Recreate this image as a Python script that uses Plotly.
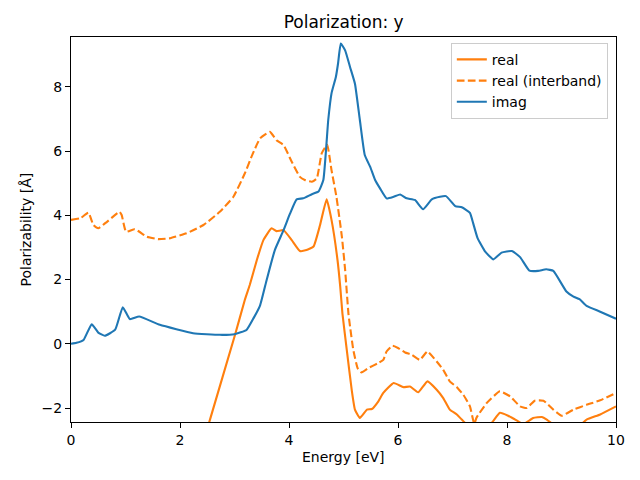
import plotly.graph_objects as go

# Imaginary part
imag_x = [0, 0.1, 0.23, 0.38, 0.5, 0.62, 0.81, 0.95, 1.08, 1.25, 1.63, 2.24, 2.73, 3.0, 3.22,
          3.35, 3.47, 3.59, 3.74, 3.9, 4.02, 4.14, 4.26, 4.42, 4.54, 4.63, 4.72, 4.78, 4.86,
          4.9, 4.95, 5.03, 5.12, 5.21, 5.3, 5.39, 5.49, 5.58, 5.67, 5.79, 5.92, 6.04, 6.16,
          6.31, 6.46, 6.62, 6.77, 6.88, 7.05, 7.17, 7.32, 7.38, 7.46, 7.6, 7.75, 7.9, 8.09,
          8.24, 8.41, 8.57, 8.72, 8.85, 9.09, 9.22, 9.33, 9.46, 9.71, 10.0]
imag_y = [0.0, 0.03, 0.12, 0.61, 0.35, 0.25, 0.44, 1.14, 0.77, 0.85, 0.59, 0.33, 0.28, 0.3, 0.43,
          0.8, 1.2, 1.99, 2.92, 3.54, 4.06, 4.5, 4.53, 4.66, 4.74, 5.1, 6.97, 7.8, 8.31,
          8.73, 9.35, 9.14, 8.62, 8.1, 6.97, 5.88, 5.51, 5.1, 4.84, 4.53, 4.58, 4.65, 4.53,
          4.48, 4.19, 4.5, 4.58, 4.6, 4.29, 4.25, 4.08, 3.75, 3.29, 2.87, 2.63, 2.84, 2.89,
          2.7, 2.28, 2.27, 2.32, 2.27, 1.63, 1.47, 1.39, 1.18, 1.0, 0.78]

# Real part (interband)
real_int_x = [0, 0.17, 0.32, 0.41, 0.5, 0.66, 0.89, 0.93, 1.01, 1.17, 1.39, 1.6, 1.82, 2.12,
              2.43, 2.73, 2.98, 3.19, 3.33, 3.47, 3.65, 3.77, 3.9, 4.05, 4.2, 4.29, 4.42, 4.51,
              4.6, 4.7, 4.78, 4.87, 4.97, 5.03, 5.09, 5.12, 5.18, 5.26, 5.33, 5.45, 5.64, 5.73,
              5.79, 5.9, 6.0, 6.13, 6.25, 6.4, 6.54, 6.71, 6.83, 6.95, 7.08, 7.2, 7.32, 7.4,
              7.44, 7.63, 7.87, 8.06, 8.24, 8.36, 8.51, 8.67, 8.85, 9.0, 9.22, 9.46, 9.71, 10.0]
real_int_y = [3.86, 3.91, 4.08, 3.7, 3.6, 3.8, 4.11, 4.01, 3.49, 3.57, 3.34, 3.26, 3.29, 3.44,
              3.7, 4.11, 4.58, 5.31, 5.9, 6.4, 6.6, 6.34, 6.19, 5.67, 5.2, 5.1, 5.05, 5.15,
              5.93, 6.2, 5.41, 4.58, 3.34, 2.3, 0.95, 0.54, -0.19, -0.76, -0.89, -0.76, -0.6, -0.5,
              -0.24, -0.06, -0.13, -0.27, -0.34, -0.5, -0.24, -0.55, -0.81, -1.17, -1.35, -1.59,
              -1.95, -2.5, -2.3, -1.84, -1.48, -1.64, -1.95, -2.0, -1.77, -1.77, -2.05, -2.24,
              -2.05, -1.9, -1.76, -1.53]

# Real part (total)
real_x = [2.0, 2.55, 3.01, 3.19, 3.28, 3.41, 3.53, 3.68, 3.77, 3.9, 4.05, 4.2, 4.32, 4.45, 4.57,
          4.69, 4.78, 4.89, 4.94, 4.98, 5.06, 5.15, 5.21, 5.3, 5.43, 5.52, 5.64, 5.73, 5.92,
          6.1, 6.22, 6.37, 6.54, 6.71, 6.83, 6.95, 7.08, 7.17, 7.45, 7.7, 7.87, 8.02, 8.15,
          8.3, 8.48, 8.64, 8.73, 9.0, 9.3, 9.46, 9.71, 10.0]
real_y = [-5.6, -2.36, 0.28, 1.37, 1.83, 2.61, 3.23, 3.6, 3.51, 3.54, 3.23, 2.89, 2.92, 3.03, 3.7,
          4.5, 3.86, 2.61, 1.78, 0.95, -0.19, -1.43, -2.05, -2.31, -2.05, -2.03, -1.79, -1.53,
          -1.22, -1.35, -1.33, -1.51, -1.17, -1.43, -1.69, -2.05, -2.2, -2.36, -2.8, -2.5,
          -2.15, -2.24, -2.36, -2.5, -2.31, -2.28, -2.36, -2.7, -2.6, -2.36, -2.2, -1.95]

x_ticks = [0, 2, 4, 6, 8, 10]
y_ticks = [-2, 0, 2, 4, 6, 8]

C0 = "#1f77b4"
C1 = "#ff7f0e"
FONT = "DejaVu Sans, Liberation Sans, sans-serif"

fig = go.Figure()
fig.add_trace(go.Scatter(x=real_x, y=real_y, mode="lines", name="real",
                         line=dict(color=C1, width=2.1, shape="spline", smoothing=0.4)))
fig.add_trace(go.Scatter(x=real_int_x, y=real_int_y, mode="lines", name="real (interband)",
                         line=dict(color=C1, width=2.1, dash="7.7px,3.3px", shape="spline", smoothing=0.4)))
fig.add_trace(go.Scatter(x=imag_x, y=imag_y, mode="lines", name="imag",
                         line=dict(color=C0, width=2.1, shape="spline", smoothing=0.4)))

axis_common = dict(showgrid=False, zeroline=False, showline=True, linecolor="black", linewidth=1,
                   mirror=True, ticks="outside", ticklen=5, tickwidth=1, tickcolor="black",
                   automargin=False,
                   tickfont=dict(family=FONT, size=14, color="black"))

fig.update_layout(
    width=640, height=480,
    margin=dict(l=71, r=24, t=37, b=58, autoexpand=False),
    paper_bgcolor="white", plot_bgcolor="white",
    font=dict(family=FONT, size=14, color="black"),
    title=dict(text="Polarization: y", x=0.537, xanchor="center", y=0.954, yanchor="middle",
               font=dict(family=FONT, size=17, color="black")),
    xaxis=dict(range=[0, 10], tickvals=x_ticks, **axis_common),
    yaxis=dict(range=[-2.435, 9.555], tickvals=y_ticks, **axis_common),
    legend=dict(x=0.985, y=0.985, xanchor="right", yanchor="top", bgcolor="rgba(255,255,255,0.8)",
                bordercolor="#cccccc", borderwidth=1, font=dict(family=FONT, size=14),
                tracegroupgap=0, itemwidth=30),
    showlegend=True,
    annotations=[
        dict(text="Energy [eV]", xref="paper", yref="paper", x=0.5, y=-0.0909,
             xanchor="center", yanchor="middle", showarrow=False,
             font=dict(family=FONT, size=14, color="black")),
        dict(text="Polarizability [Å]", xref="paper", yref="paper", x=-0.0844, y=0.5,
             xanchor="center", yanchor="middle", showarrow=False, textangle=-90,
             font=dict(family=FONT, size=14, color="black")),
    ],
)

fig.write_html("out.html", config={"displayModeBar": False},
               post_script="document.body.style.margin='0px';document.body.style.padding='0px';")
